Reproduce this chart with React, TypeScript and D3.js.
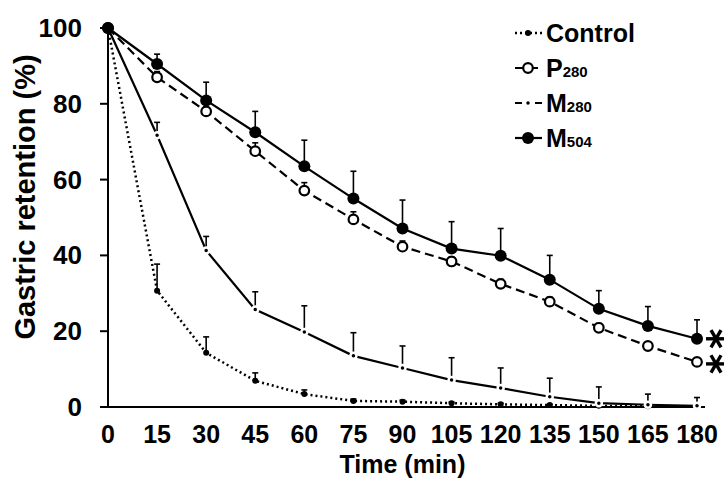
import React, { useRef, useEffect } from 'react'
import * as d3 from 'd3'

const times = [0, 15, 30, 45, 60, 75, 90, 105, 120, 135, 150, 165, 180]
const yTicks = [0, 20, 40, 60, 80, 100]

const controlMean = [100, 30.7, 14.3, 6.9, 3.4, 1.6, 1.4, 1.0, 0.7, 0.5, 0.3, 0.2, 0.1]
const controlErr = [0, 7.0, 4.2, 2.1, 1.1, 0.5, 0.4, 0.3, 0.3, 0.2, 0.2, 0.2, 0.2]
const p280Mean = [100, 87.0, 78.0, 67.5, 57.1, 49.5, 42.3, 38.4, 32.5, 27.8, 20.9, 16.1, 11.9]
const p280Err = [0, 1.5, 1.2, 2.2, 2.1, 2.0, 1.5, 1.2, 1.2, 1.2, 1.2, 1.0, 1.0]
const m280Mean = [100, 71.7, 41.3, 25.7, 19.8, 13.5, 10.3, 7.1, 5.0, 2.7, 1.0, 0.6, 0.3]
const m280Err = [0, 3.4, 3.7, 4.7, 6.9, 6.1, 5.8, 5.9, 5.3, 4.9, 4.3, 2.8, 2.2]
const m504Mean = [100, 90.5, 80.9, 72.5, 63.5, 55.0, 47.1, 41.8, 39.9, 33.6, 25.9, 21.4, 18.0]
const m504Err = [0, 2.6, 4.8, 5.5, 6.9, 7.2, 7.5, 7.1, 7.2, 6.4, 4.8, 5.1, 5.0]

const seriesNames = ['Control', 'P', 'M', 'M']
const seriesSubs = ['', '280', '280', '504']

const W = 724
const H = 480

const App: React.FC = () => {
    const svgRef = useRef<SVGSVGElement>(null)

    useEffect(() => {
        const svg = d3.select(svgRef.current).attr('width', W).attr('height', H)
        svg.selectAll('*').remove()

        const x = d3.scaleLinear().domain([0, 180]).range([108, 697])
        const y = d3.scaleLinear().domain([0, 100]).range([407, 28])
        const font = '"Liberation Sans", Arial, sans-serif'

        // 坐标轴
        svg.append('line')
            .attr('x1', x(0)).attr('x2', x(0))
            .attr('y1', y(0)).attr('y2', y(100))
            .attr('stroke', '#000').attr('stroke-width', 2)
        svg.append('line')
            .attr('x1', x(0) - 8).attr('x2', x(180) + 8)
            .attr('y1', y(0)).attr('y2', y(0))
            .attr('stroke', '#000').attr('stroke-width', 2)

        yTicks.forEach((t) => {
            svg.append('line')
                .attr('x1', x(0) - 8).attr('x2', x(0))
                .attr('y1', y(t)).attr('y2', y(t))
                .attr('stroke', '#000').attr('stroke-width', 2)
            svg.append('text')
                .attr('x', 82).attr('y', y(t) + 9)
                .attr('text-anchor', 'end')
                .style('font-family', font).style('font-weight', 'bold').style('font-size', '26px')
                .text(t)
        })

        times.forEach((t) => {
            svg.append('text')
                .attr('x', x(t)).attr('y', 443)
                .attr('text-anchor', 'middle')
                .style('font-family', font).style('font-weight', 'bold').style('font-size', '25px')
                .text(t)
        })

        svg.append('text')
            .attr('x', (x(0) + x(180)) / 2).attr('y', 473)
            .attr('text-anchor', 'middle')
            .style('font-family', font).style('font-weight', 'bold').style('font-size', '25px')
            .text('Time (min)')

        svg.append('text')
            .attr('transform', `translate(35,197) rotate(-90)`)
            .attr('text-anchor', 'middle')
            .style('font-family', font).style('font-weight', 'bold').style('font-size', '29px')
            .text('Gastric retention (%)')

        const series = [
            { mean: controlMean, err: controlErr, dash: '2,3', width: 2.5, r: 3, fill: '#000' },
            { mean: p280Mean, err: p280Err, dash: '9,5', width: 2.2, r: 4.8, fill: '#fff' },
            { mean: m280Mean, err: m280Err, dash: null, width: 2.2, r: 3, fill: '#000' },
            { mean: m504Mean, err: m504Err, dash: null, width: 2.2, r: 6, fill: '#000' },
        ]

        const line = d3.line<number>().x((_, i) => x(times[i])).y((d) => y(d))

        series.forEach((s) => {
            const g = svg.append('g')
            // 误差线（只向上）
            s.mean.forEach((m, i) => {
                if (s.err[i] <= 0) return
                g.append('line')
                    .attr('x1', x(times[i])).attr('x2', x(times[i]))
                    .attr('y1', y(m)).attr('y2', y(m + s.err[i]))
                    .attr('stroke', '#000').attr('stroke-width', 1.6)
                g.append('line')
                    .attr('x1', x(times[i]) - 3).attr('x2', x(times[i]) + 3)
                    .attr('y1', y(m + s.err[i])).attr('y2', y(m + s.err[i]))
                    .attr('stroke', '#000').attr('stroke-width', 1.6)
            })
            g.append('path')
                .attr('d', line(s.mean))
                .attr('fill', 'none')
                .attr('stroke', '#000')
                .attr('stroke-width', s.width)
                .attr('stroke-dasharray', s.dash)
        })

        series.forEach((s, k) => {
            svg.append('g')
                .selectAll('circle')
                .data(s.mean)
                .enter()
                .append('circle')
                .attr('cx', (_, i) => x(times[i]))
                .attr('cy', (d) => y(d))
                .attr('r', s.r)
                .attr('fill', s.fill)
                .attr('stroke', k === 2 ? '#fff' : '#000')
                .attr('stroke-width', k === 2 ? 2.5 : k === 1 ? 2.2 : 0)
        })

        // 星号
        const star = (cx: number, cy: number) => {
            const r = 10
            const angles = [0, 60, 120]
            angles.forEach((a) => {
                const rad = (a * Math.PI) / 180
                svg.append('line')
                    .attr('x1', cx - r * Math.cos(rad)).attr('y1', cy - r * Math.sin(rad))
                    .attr('x2', cx + r * Math.cos(rad)).attr('y2', cy + r * Math.sin(rad))
                    .attr('stroke', '#000').attr('stroke-width', 3.4)
            })
        }
        star(716, y(m504Mean[12]))
        star(716, y(p280Mean[12]) + 2)

        // 图例
        series.forEach((s, k) => {
            const ly = 33 + k * 35
            const lg = svg.append('g')
            lg.append('line')
                .attr('x1', 515).attr('x2', 542)
                .attr('y1', ly).attr('y2', ly)
                .attr('stroke', '#000')
                .attr('stroke-width', s.width)
                .attr('stroke-dasharray', k === 2 ? '7,3' : s.dash)
            lg.append('circle')
                .attr('cx', 528).attr('cy', ly)
                .attr('r', s.r)
                .attr('fill', s.fill)
                .attr('stroke', k === 2 ? '#fff' : '#000')
                .attr('stroke-width', k === 2 ? 2.5 : k === 1 ? 2.2 : 0)
            const t = lg.append('text')
                .attr('x', 546).attr('y', ly + 9)
                .style('font-family', font).style('font-weight', 'bold').style('font-size', '25px')
            t.append('tspan').text(seriesNames[k])
            if (seriesSubs[k]) {
                t.append('tspan').style('font-size', '15px').text(seriesSubs[k])
            }
        })
    }, [])

    return (
        <div style={{ position: 'absolute', left: 0, top: 0, background: '#fff' }}>
            <svg ref={svgRef} />
        </div>
    )
}

export default App
